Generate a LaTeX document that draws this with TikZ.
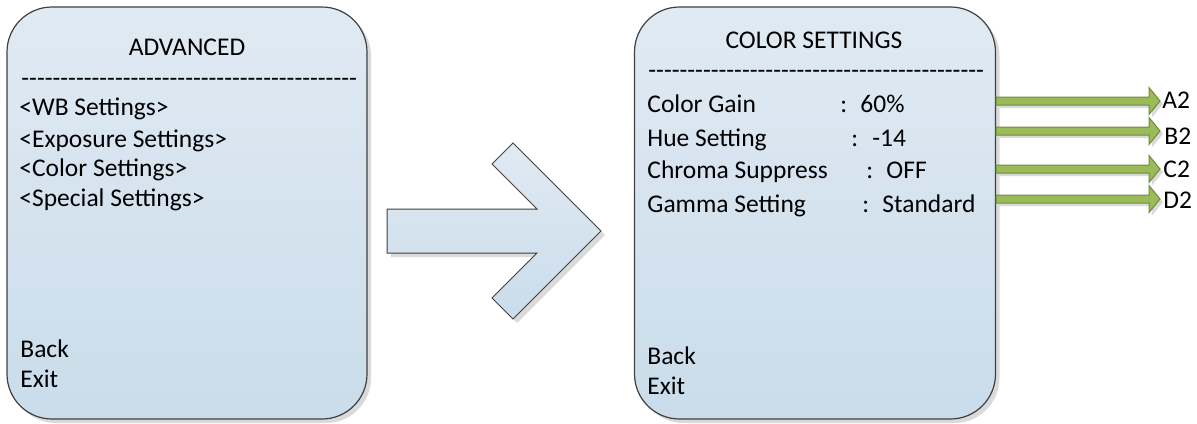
\documentclass[tikz,border=0pt]{standalone}
\usepackage{fontspec}
\setmainfont{Carlito}
\usetikzlibrary{shadows,calc}
\definecolor{boxtop}{RGB}{224,234,243}
\definecolor{boxbot}{RGB}{202,220,234}
\definecolor{edge}{RGB}{64,64,64}
\definecolor{shadegray}{RGB}{218,218,218}
\definecolor{olive}{RGB}{155,187,89}
\definecolor{olivedark}{RGB}{113,137,63}
\newcommand\hyrow[1]{\foreach \i in {1,...,#1}{\hbox{-}}}
\begin{document}
\begin{tikzpicture}[x=0.5pt,y=-0.5pt,
  menubox/.style={draw=edge, line width=0.6pt, rounded corners=22.5pt,
    top color=boxtop, bottom color=boxbot, minimum width=180pt,
    minimum height=206pt, inner sep=0pt,
    drop shadow={shadow xshift=2pt, shadow yshift=-2pt, fill=shadegray, opacity=1}},
  bigarrow/.style={draw=edge, line width=0.5pt, top color=boxtop, bottom color=boxbot,
    drop shadow={shadow xshift=2pt, shadow yshift=-2pt, fill=shadegray, opacity=1}},
  greenarrow/.style={draw=olivedark, line width=0.5pt, fill=olive,
    drop shadow={shadow xshift=1.5pt, shadow yshift=-1.5pt, fill=shadegray, opacity=1}},
  txt/.style={anchor=base west, inner sep=0pt, font=\fontsize{12.75}{14}\selectfont},
  ttl/.style={anchor=base, inner sep=0pt, font=\fontsize{12.75}{14}\selectfont}]
\useasboundingbox (0,0) rectangle (1197,423);

% boxes
\node[menubox] (adv) at (187,213) {};
\node[menubox, minimum width=180.5pt] (col) at (815,213) {};

% left box text
\node[ttl] (advtitle) at (187,55) {ADVANCED};
\node[txt] (advdash) at (21,86) {\hyrow{43}};
\node[txt] (wb) at (19,115) {<WB Settings>};
\node[txt] (exp) at (19,147) {<Exposure Settings>};
\node[txt] (colset) at (19,176) {<Color Settings>};
\node[txt] (spec) at (19,206) {<Special Settings>};
\node[txt] (back1) at (20,357) {Back};
\node[txt] (exit1) at (20,387) {Exit};

% right box text
\node[ttl] (coltitle) at (814,48) {COLOR SETTINGS};
\node[txt] (coldash) at (648,78) {\hyrow{43}};
\node[txt] (cg) at (647,112) {Color Gain};
\node[txt] (cgc) at (840,112) {:};
\node[txt] (cgv) at (860,112) {60\%};
\node[txt] (hs) at (647,146) {Hue Setting};
\node[txt] (hsc) at (851,146) {:};
\node[txt] (hsv) at (872,146) {-14};
\node[txt] (cs) at (647,178) {Chroma Suppress};
\node[txt] (csc) at (866,178) {:};
\node[txt] (csv) at (886,178) {OFF};
\node[txt] (gs) at (647,212) {Gamma Setting};
\node[txt] (gsc) at (862,212) {:};
\node[txt] (gsv) at (882,212) {Standard};
\node[txt] (back2) at (647,364) {Back};
\node[txt] (exit2) at (647,394) {Exit};

% big arrow between menus
\draw[bigarrow] (387,209) -- (537,209) -- (492,164) -- (513,143) -- (601,231)
  -- (513,319) -- (492,298) -- (537,253) -- (387,253) -- cycle;

% green arrows and labels
\node[txt] (A2) at (1162,108) {A2};
\node[txt] (B2) at (1164,144) {B2};
\node[txt] (C2) at (1163,177) {C2};
\node[txt] (D2) at (1163,208) {D2};
\foreach \n/\y in {A/101,B/131,C/169,D/199}{
  \coordinate (s\n) at (996,\y);
  \coordinate (t\n) at (1160,\y);
  \draw[greenarrow] ($(s\n)+(0,-4)$) -- ($(t\n)+(-11,-4)$) -- ($(t\n)+(-11,-13.5)$)
    -- (t\n) -- ($(t\n)+(-11,13.5)$) -- ($(t\n)+(-11,4)$) -- ($(s\n)+(0,4)$) -- cycle;
}
\end{tikzpicture}
\end{document}
